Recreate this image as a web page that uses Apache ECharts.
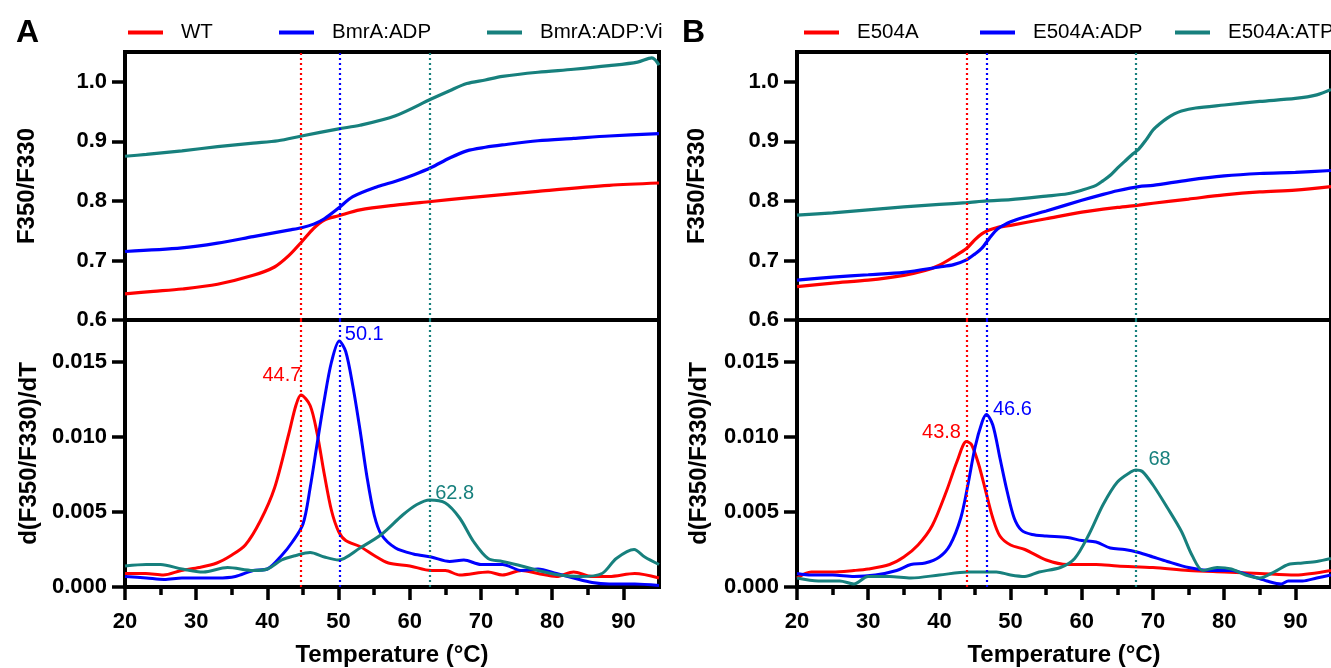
<!DOCTYPE html>
<html><head><meta charset="utf-8">
<script src="https://cdn.jsdelivr.net/npm/echarts@6/dist/echarts.min.js"></script>
<style>html,body{margin:0;padding:0;background:#fff}#c{width:1331px;height:668px}</style>
</head><body><div id="c"></div>
<script>
// ---------- DATA ----------
const seriesNamesA = ['WT', 'BmrA:ADP', 'BmrA:ADP:Vi'];
const seriesNamesB = ['E504A', 'E504A:ADP', 'E504A:ATP'];

// Panel A, top (F350/F330)
const tA_top_red = [20, 24, 28, 33, 38, 41, 43, 44.8, 46.5, 48, 50, 53, 58, 63, 68, 78, 88, 95];
const vA_top_red = [0.644, 0.648, 0.652, 0.660, 0.675, 0.689, 0.708, 0.731, 0.754, 0.768, 0.775, 0.785, 0.793, 0.799, 0.805, 0.816, 0.826, 0.830];
const tA_top_blue = [20, 28, 33, 38, 43, 44.8, 46.5, 48, 50, 52, 55.5, 58, 60.6, 63, 65.6, 68, 70.6, 73, 78, 83, 88, 95];
const vA_top_blue = [0.715, 0.721, 0.729, 0.740, 0.751, 0.755, 0.761, 0.770, 0.788, 0.807, 0.824, 0.833, 0.844, 0.856, 0.872, 0.884, 0.890, 0.894, 0.901, 0.905, 0.909, 0.913];
const tA_top_teal = [20, 23, 28, 33, 38, 41.5, 44.8, 50, 53, 58, 63, 65.6, 68, 70.6, 73, 78, 83, 88, 92, 94, 95];
const vA_top_teal = [0.875, 0.878, 0.884, 0.891, 0.897, 0.901, 0.909, 0.921, 0.927, 0.943, 0.971, 0.985, 0.997, 1.003, 1.009, 1.016, 1.021, 1.027, 1.033, 1.040, 1.028];

// Panel A, bottom (derivative)
const tA_d_red = [20, 22.9, 25.4, 27.9, 30.4, 32.9, 34.9, 36.9, 39, 41, 43, 44, 44.7, 46, 47, 48, 49, 50, 51, 53, 55, 57, 60, 63, 65, 67, 71, 73, 75.7, 78, 80.6, 83, 85.6, 88, 91.6, 95];
const vA_d_red = [0.0009, 0.0009, 0.0008, 0.0011, 0.0013, 0.0016, 0.0021, 0.0028, 0.0044, 0.0066, 0.0102, 0.0121, 0.0128, 0.0121, 0.0102, 0.0075, 0.0051, 0.0037, 0.0031, 0.0027, 0.0021, 0.0016, 0.0014, 0.0011, 0.0011, 0.0008, 0.0010, 0.0008, 0.0011, 0.0009, 0.0007, 0.0010, 0.0007, 0.0007, 0.0009, 0.0006];
const tA_d_blue = [20, 23, 25.5, 28, 30.5, 33, 35.5, 38, 40, 42, 43.5, 45, 46, 47, 48, 49, 50.1, 51, 52, 53, 54, 55, 56, 58, 60.5, 63, 65.6, 67.6, 70, 73, 75.7, 78, 80.6, 83, 85.6, 88, 91.6, 95];
const vA_d_blue = [0.0007, 0.0006, 0.0005, 0.0006, 0.0006, 0.0006, 0.0007, 0.0011, 0.0012, 0.0021, 0.0030, 0.0042, 0.0066, 0.0096, 0.0125, 0.0150, 0.0164, 0.0157, 0.0134, 0.0105, 0.0073, 0.0048, 0.0035, 0.0026, 0.0022, 0.0020, 0.0017, 0.0018, 0.0015, 0.0015, 0.0011, 0.0012, 0.0009, 0.0006, 0.0003, 0.0002, 0.0002, 0.0001];
const tA_d_teal = [20, 23, 25, 28, 31, 34.4, 38, 40, 42, 44, 46, 48, 50, 53, 56, 59, 61, 62.8, 65, 67, 69, 71, 73, 75.7, 78, 81, 84, 87, 89, 91.5, 93, 95];
const vA_d_teal = [0.0014, 0.0015, 0.0015, 0.0012, 0.0010, 0.0013, 0.0011, 0.0012, 0.0018, 0.0021, 0.0023, 0.0020, 0.0018, 0.0026, 0.0035, 0.0048, 0.0055, 0.0058, 0.0056, 0.0046, 0.0030, 0.0019, 0.0017, 0.0014, 0.0011, 0.0008, 0.0007, 0.0009, 0.0019, 0.0025, 0.0020, 0.0015];

// Panel B, top
const tB_top_red = [20, 25, 30, 35, 38, 40, 42, 43.8, 45, 46, 47, 48, 50, 55, 60, 65, 68, 70, 75, 80, 85, 90, 95];
const vB_top_red = [0.656, 0.662, 0.667, 0.675, 0.683, 0.692, 0.706, 0.720, 0.735, 0.745, 0.751, 0.755, 0.759, 0.770, 0.781, 0.789, 0.793, 0.796, 0.803, 0.810, 0.815, 0.818, 0.824];
const tB_top_blue = [20, 25, 30, 35, 40, 42, 43.8, 45, 46, 47, 48, 49, 50, 52, 55, 60, 63, 65, 68, 70, 75, 80, 85, 90, 95];
const vB_top_blue = [0.667, 0.672, 0.676, 0.680, 0.689, 0.693, 0.701, 0.711, 0.721, 0.737, 0.751, 0.759, 0.765, 0.773, 0.783, 0.801, 0.811, 0.817, 0.824, 0.826, 0.835, 0.842, 0.846, 0.848, 0.851];
const tB_top_teal = [20, 25, 30, 35, 40, 43.8, 46.6, 50, 55, 58, 60, 62, 63, 64, 65, 66, 67, 68, 69, 70, 71, 72, 73, 74, 76, 80, 85, 90, 93, 95];
const vB_top_teal = [0.776, 0.780, 0.785, 0.790, 0.794, 0.797, 0.800, 0.802, 0.808, 0.812, 0.818, 0.826, 0.834, 0.843, 0.855, 0.866, 0.877, 0.887, 0.902, 0.919, 0.930, 0.939, 0.946, 0.951, 0.956, 0.961, 0.967, 0.972, 0.978, 0.987];

// Panel B, bottom
const tB_d_red = [20, 22, 25, 28, 30, 33, 35, 37, 39, 41, 42.5, 43.8, 44.5, 45.5, 46.5, 47.5, 48.5, 50, 52, 55, 58, 62, 65, 70, 75, 80, 85, 90, 95];
const vB_d_red = [0.0006, 0.0010, 0.0010, 0.0011, 0.0012, 0.0015, 0.0020, 0.0028, 0.0041, 0.0064, 0.0084, 0.0097, 0.0095, 0.0082, 0.0064, 0.0046, 0.0034, 0.0028, 0.0025, 0.0018, 0.0015, 0.0015, 0.0014, 0.0013, 0.0011, 0.0010, 0.0009, 0.0008, 0.0011];
const tB_d_blue = [20, 22, 25, 28, 31, 34, 36, 38, 40, 41.5, 43, 44, 45, 46, 46.6, 47.5, 48.5, 49.5, 50.5, 51.5, 53, 55, 58, 60, 62, 64, 66, 68, 70, 72, 75, 78, 81, 84, 86, 88, 89, 91, 93, 95];
const vB_d_blue = [0.0009, 0.0008, 0.0008, 0.0007, 0.0008, 0.0011, 0.0015, 0.0016, 0.0020, 0.0028, 0.0046, 0.0068, 0.0093, 0.0110, 0.0115, 0.0108, 0.0086, 0.0064, 0.0046, 0.0038, 0.0035, 0.0034, 0.0033, 0.0031, 0.0030, 0.0026, 0.0025, 0.0023, 0.0020, 0.0017, 0.0013, 0.0011, 0.0011, 0.0007, 0.0004, 0.0002, 0.0004, 0.0004, 0.0006, 0.0008];
const tB_d_teal = [20, 23, 26, 28, 30, 33, 36, 40, 44, 48, 50, 52, 54, 57, 59, 61, 63, 65, 67, 67.6, 68.5, 70, 72, 74, 75.5, 77, 79, 81, 83, 85, 87, 89, 91, 93, 95];
const vB_d_teal = [0.0006, 0.0004, 0.0004, 0.0002, 0.0007, 0.0007, 0.0006, 0.0008, 0.0010, 0.0010, 0.0008, 0.0007, 0.0010, 0.0013, 0.0019, 0.0035, 0.0055, 0.0070, 0.0077, 0.0078, 0.0077, 0.0068, 0.0053, 0.0037, 0.0021, 0.0011, 0.0013, 0.0012, 0.0008, 0.0006, 0.0010, 0.0015, 0.0016, 0.0017, 0.0019];

// Peaks (Tm) and labels
const peakTempsA = [44.7, 50.1, 62.8];
const peakValsA = [0.0128, 0.0164, 0.0058];
const peakLabelsA = ['44.7', '50.1', '62.8'];
const peakTempsB = [43.8, 46.6, 67.6];
const peakValsB = [0.0097, 0.0115, 0.0078];
const peakLabelsB = ['43.8', '46.6', '68'];

// Ticks
const xMajorTicks = [20, 30, 40, 50, 60, 70, 80, 90];
const xMinorTicks = [25, 35, 45, 55, 65, 75, 85];
const yTopTicks = [0.6, 0.7, 0.8, 0.9, 1.0];
const yBotTicks = [0, 0.005, 0.010, 0.015];

// ---------- STYLE ----------
const COLORS = ['#ff0000', '#0000ff', '#17807d'];
const FONT = "'Liberation Sans', Arial, sans-serif";
const AXW = 4;
const TKW = 3.5;
const pair = (t, v) => t.map((x, i) => [x, v[i]]);

const grids = [
  { left: 125, top: 52, width: 534, height: 268 },
  { left: 125, top: 320, width: 534, height: 267 },
  { left: 797, top: 52, width: 536, height: 268 },
  { left: 797, top: 320, width: 536, height: 267 }
].map(g => Object.assign(g, { show: true, borderWidth: AXW, borderColor: '#000', backgroundColor: 'transparent', containLabel: false }));

function hiddenX(gi) {
  return { type: 'value', gridIndex: gi, min: 20, max: 95, show: false };
}
function mainX(gi) {
  return {
    type: 'value', gridIndex: gi, min: 20, max: 95, interval: 10,
    name: 'Temperature (°C)', nameLocation: 'middle', nameGap: 56,
    nameTextStyle: { fontFamily: FONT, fontWeight: 'bold', fontSize: 24, color: '#000' },
    axisLine: { show: true, lineStyle: { color: '#000', width: AXW } },
    axisTick: { show: true, length: 13, lineStyle: { color: '#000', width: TKW }, customValues: xMajorTicks },
    axisLabel: { show: true, margin: 24, fontFamily: FONT, fontWeight: 'bold', fontSize: 22, color: '#000', customValues: xMajorTicks },
    splitLine: { show: false }
  };
}
function minorX(gi) {
  return {
    type: 'value', gridIndex: gi, min: 20, max: 95, position: 'bottom',
    axisLine: { show: false },
    axisTick: { show: true, length: 8, lineStyle: { color: '#000', width: TKW }, customValues: xMinorTicks },
    axisLabel: { show: false },
    splitLine: { show: false }
  };
}
function yAx(gi, min, max, ticks, digits, name, gap) {
  return {
    type: 'value', gridIndex: gi, min: min, max: max,
    name: name, nameLocation: 'middle', nameGap: gap,
    nameTextStyle: { fontFamily: FONT, fontWeight: 'bold', fontSize: 24, color: '#000' },
    axisLine: { show: true, lineStyle: { color: '#000', width: AXW } },
    axisTick: { show: true, length: 13, lineStyle: { color: '#000', width: TKW }, customValues: ticks },
    axisLabel: { show: true, margin: 18, fontFamily: FONT, fontWeight: 'bold', fontSize: 22, color: '#000',
      customValues: ticks, formatter: v => Number(v).toFixed(digits) },
    splitLine: { show: false }
  };
}

const xAxes = [hiddenX(0), mainX(1), minorX(1), hiddenX(2), mainX(3), minorX(3)];
const yAxes = [
  yAx(0, 0.6, 1.05, yTopTicks, 1, 'F350/F330', 86),
  yAx(1, 0, 0.0178, yBotTicks, 3, 'd(F350/F330)/dT', 84),
  yAx(2, 0.6, 1.05, yTopTicks, 1, 'F350/F330', 88),
  yAx(3, 0, 0.0178, yBotTicks, 3, 'd(F350/F330)/dT', 86)
];

function vline(temp, color) {
  return {
    silent: true, symbol: ['none', 'none'], label: { show: false },
    lineStyle: { type: [2, 3], width: 2.2, color: color },
    emphasis: { disabled: true },
    data: [{ xAxis: temp }]
  };
}
function peakLabel(temp, val, text, color, pos, offset) {
  return {
    silent: true, symbol: 'circle', symbolSize: 1, itemStyle: { color: 'rgba(0,0,0,0)' },
    label: { show: true, position: pos, distance: 3, offset: offset, formatter: text,
      fontFamily: FONT, fontSize: 20, color: color },
    data: [{ coord: [temp, val] }]
  };
}
function lineSeries(name, xi, yi, data, color, width, extra) {
  return Object.assign({
    type: 'line', name: name, xAxisIndex: xi, yAxisIndex: yi, data: data,
    showSymbol: false, symbol: 'none', smooth: 0.3, animation: false,
    lineStyle: { color: color, width: width }, itemStyle: { color: color },
    emphasis: { disabled: true }, z: 3
  }, extra || {});
}

const labelPosA = [['left', [4, -20]], ['right', [2, -7]], ['right', [2, -7]]];
const labelPosB = [['left', [-2, -9]], ['right', [3, -5]], ['right', [9, -11]]];

const topA = [pair(tA_top_red, vA_top_red), pair(tA_top_blue, vA_top_blue), pair(tA_top_teal, vA_top_teal)];
const botA = [pair(tA_d_red, vA_d_red), pair(tA_d_blue, vA_d_blue), pair(tA_d_teal, vA_d_teal)];
const topB = [pair(tB_top_red, vB_top_red), pair(tB_top_blue, vB_top_blue), pair(tB_top_teal, vB_top_teal)];
const botB = [pair(tB_d_red, vB_d_red), pair(tB_d_blue, vB_d_blue), pair(tB_d_teal, vB_d_teal)];

const series = [];
for (let i = 0; i < 3; i++) {
  series.push(lineSeries(seriesNamesA[i], 0, 0, topA[i], COLORS[i], 3.2, { markLine: vline(peakTempsA[i], COLORS[i]) }));
  series.push(lineSeries(seriesNamesA[i], 1, 1, botA[i], COLORS[i], 3, {
    markLine: vline(peakTempsA[i], COLORS[i]),
    markPoint: peakLabel(peakTempsA[i], peakValsA[i], peakLabelsA[i], COLORS[i], labelPosA[i][0], labelPosA[i][1])
  }));
  series.push(lineSeries(seriesNamesB[i], 3, 2, topB[i], COLORS[i], 3.2, { markLine: vline(peakTempsB[i], COLORS[i]) }));
  series.push(lineSeries(seriesNamesB[i], 4, 3, botB[i], COLORS[i], 3, {
    markLine: vline(peakTempsB[i], COLORS[i]),
    markPoint: peakLabel(peakTempsB[i], peakValsB[i], peakLabelsB[i], COLORS[i], labelPosB[i][0], labelPosB[i][1])
  }));
}

const legendLefts = [128, 279, 487, 804, 980, 1175];
const legendNames = seriesNamesA.concat(seriesNamesB);
const legends = legendNames.map((n, i) => ({
  data: [n], left: legendLefts[i], top: 22, orient: 'horizontal', padding: 0,
  icon: 'rect', itemWidth: 35, itemHeight: 4, selectedMode: false,
  textStyle: { fontFamily: FONT, fontSize: 20.5, color: '#000', padding: [0, 0, 0, 13] }
}));

const option = {
  backgroundColor: '#fff',
  animation: false,
  title: [
    { text: 'A', left: 11, top: 12, textStyle: { fontFamily: FONT, fontWeight: 'bold', fontSize: 32, color: '#000' } },
    { text: 'B', left: 677, top: 12, textStyle: { fontFamily: FONT, fontWeight: 'bold', fontSize: 32, color: '#000' } }
  ],
  legend: legends,
  grid: grids,
  xAxis: xAxes,
  yAxis: yAxes,
  series: series
};

const chart = echarts.init(document.getElementById('c'), null, { renderer: 'canvas' });
chart.setOption(option);
</script></body></html>
